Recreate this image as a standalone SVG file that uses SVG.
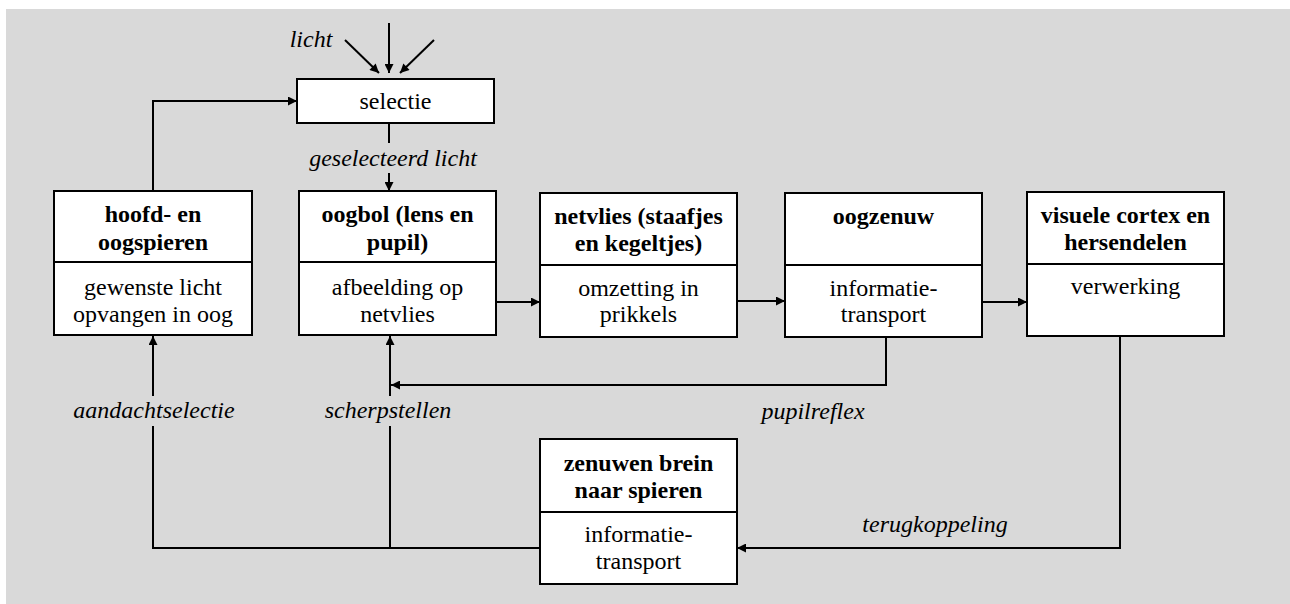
<svg xmlns="http://www.w3.org/2000/svg" width="1290" height="604" viewBox="0 0 1290 604">
<style>
  .box { fill: #ffffff; stroke: #000000; stroke-width: 2; }
  .div { stroke: #000000; stroke-width: 2; }
  text { font-family: 'Liberation Serif', 'DejaVu Serif', serif; font-size: 24px; fill: #000; text-anchor: middle; }
  .hd { font-weight: bold; }
  .lb { font-style: italic; }
  .ln { fill: none; stroke: #000000; stroke-width: 2; }
  .ar { fill: none; stroke: #000000; stroke-width: 2; marker-end: url(#ah); }
</style>
<defs>
  <marker id="ah" viewBox="0 0 10 10" refX="10" refY="5" markerWidth="10" markerHeight="9" markerUnits="userSpaceOnUse" orient="auto">
    <path d="M0,0 L10,5 L0,10 z" fill="#000"/>
  </marker>
</defs>
<rect x="6" y="9" width="1284" height="595" fill="#d9d9d9"/>

<g id="connectors">
  <line class="ar" x1="389" y1="23" x2="389" y2="73"/>
  <line class="ar" x1="345" y1="40" x2="379" y2="73"/>
  <line class="ar" x1="434" y1="40" x2="400" y2="73"/>
  <text class="lb" x="311" y="47">licht</text>
  <path class="ar" d="M153,191 V101 H297"/>
  <line class="ln" x1="389" y1="123" x2="389" y2="143"/>
  <text class="lb" x="393" y="166">geselecteerd licht</text>
  <line class="ar" x1="389" y1="173" x2="389" y2="191"/>
  <line class="ar" x1="496" y1="302" x2="540" y2="302"/>
  <line class="ar" x1="737" y1="301" x2="785" y2="301"/>
  <line class="ar" x1="982" y1="302" x2="1027" y2="302"/>
  <path class="ar" d="M886,337 V385 H391"/>
  <text class="lb" x="813" y="419">pupilreflex</text>
  <line class="ar" x1="153" y1="396" x2="153" y2="336"/>
  <line class="ln" x1="153" y1="426" x2="153" y2="548"/>
  <text class="lb" x="154" y="418">aandachtselectie</text>
  <line class="ar" x1="390" y1="396" x2="390" y2="336"/>
  <line class="ln" x1="390" y1="426" x2="390" y2="548"/>
  <text class="lb" x="388" y="418">scherpstellen</text>
  <line class="ln" x1="152" y1="548" x2="540" y2="548"/>
  <path class="ar" d="M1120,336 V548 H737"/>
  <text class="lb" x="935" y="532">terugkoppeling</text>
</g>

<g id="selectie">
  <rect class="box" x="297" y="79" width="197" height="44"/>
  <text x="395.5" y="109">selectie</text>
</g>

<g id="hoofd">
  <rect class="box" x="54" y="191" width="198" height="144"/>
  <line class="div" x1="54" y1="262" x2="252" y2="262"/>
  <text class="hd" x="153" y="222">hoofd- en</text>
  <text class="hd" x="153" y="250">oogspieren</text>
  <text x="153" y="295">gewenste licht</text>
  <text x="153" y="322">opvangen in oog</text>
</g>

<g id="oogbol">
  <rect class="box" x="299" y="191" width="197" height="144"/>
  <line class="div" x1="299" y1="262" x2="496" y2="262"/>
  <text class="hd" x="397.5" y="222">oogbol (lens en</text>
  <text class="hd" x="397.5" y="250">pupil)</text>
  <text x="397.5" y="295">afbeelding op</text>
  <text x="397.5" y="322">netvlies</text>
</g>

<g id="netvlies">
  <rect class="box" x="540" y="193" width="197" height="144"/>
  <line class="div" x1="540" y1="265" x2="737" y2="265"/>
  <text class="hd" x="638.5" y="224">netvlies (staafjes</text>
  <text class="hd" x="638.5" y="251">en kegeltjes)</text>
  <text x="638.5" y="296">omzetting in</text>
  <text x="638.5" y="322">prikkels</text>
</g>

<g id="oogzenuw">
  <rect class="box" x="785" y="193" width="197" height="144"/>
  <line class="div" x1="785" y1="265" x2="982" y2="265"/>
  <text class="hd" x="883.5" y="224">oogzenuw</text>
  <text x="883.5" y="296">informatie-</text>
  <text x="883.5" y="322">transport</text>
</g>

<g id="visuele">
  <rect class="box" x="1027" y="192" width="197" height="144"/>
  <line class="div" x1="1027" y1="264" x2="1224" y2="264"/>
  <text class="hd" x="1125.5" y="223">visuele cortex en</text>
  <text class="hd" x="1125.5" y="250">hersendelen</text>
  <text x="1125.5" y="294">verwerking</text>
</g>

<g id="zenuwen">
  <rect class="box" x="540" y="439" width="197" height="145"/>
  <line class="div" x1="540" y1="512" x2="737" y2="512"/>
  <text class="hd" x="638.5" y="471">zenuwen brein</text>
  <text class="hd" x="638.5" y="498">naar spieren</text>
  <text x="638.5" y="542">informatie-</text>
  <text x="638.5" y="569">transport</text>
</g>
</svg>
